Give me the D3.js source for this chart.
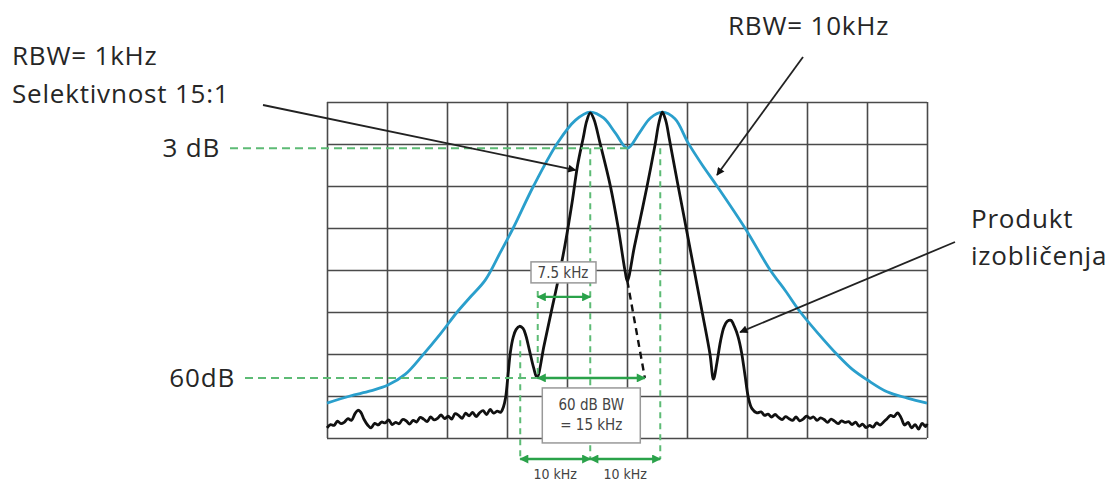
<!DOCTYPE html>
<html>
<head>
<meta charset="utf-8">
<script src="https://cdn.jsdelivr.net/npm/d3@7"></script>
<style>
  body { margin: 0; background: #fff; }
  .label { font-family: "Open Sans", sans-serif; font-size: 26px; letter-spacing: 0.8px; fill: #262626; }
  .note { font-family: "Liberation Sans Narrow", "DejaVu Sans Condensed", sans-serif; font-size: 15px; fill: #444; }
</style>
</head>
<body>
<svg id="chart" width="1108" height="485"></svg>
<script>
// DATA: traces as [frequency offset from first tone (kHz), level (dB, top of screen = 0)]
const rbw10Trace = [
  [-37.6, -71.7], [-34.3, -70.0], [-31.4, -68.8], [-28.9, -67.4], [-26.4, -64.8],
  [-23.9, -60.2], [-21.4, -55.2], [-19.0, -50.0], [-17.0, -46.2], [-15.0, -42.4],
  [-12.9, -36.0], [-11.0, -30.0], [-8.1, -20.0], [-4.7, -9.8], [-2.1, -4.3],
  [0, -2.4], [1.9, -3.8], [3.6, -7.4], [5.3, -11.0], [7.0, -7.4], [8.6, -3.8],
  [10.3, -2.4], [12.1, -4.0], [14.0, -9.8], [16.0, -15.0], [18.1, -20.0],
  [22.1, -30.0], [25.7, -40.0], [27.9, -45.0], [30.0, -50.0], [32.6, -55.2],
  [35.3, -60.2], [37.4, -63.6], [39.6, -66.2], [42.4, -69.0], [45.3, -70.5], [48.1, -71.7]
];

const noiseLeft = [
  [-37.6, -77.6], [-37.1, -76.8], [-36.6, -77.0], [-36.1, -76.0], [-35.6, -76.6],
  [-35.1, -76.2], [-34.6, -75.4], [-34.1, -75.8], [-33.6, -74.2], [-33.2, -73.4],
  [-32.8, -73.8], [-32.3, -75.6], [-31.8, -76.9], [-31.3, -77.6], [-30.8, -76.5],
  [-30.3, -76.9], [-29.8, -76.2], [-29.3, -76.4], [-28.8, -75.7], [-28.3, -76.8],
  [-27.8, -76.3], [-27.3, -76.6], [-26.8, -75.6], [-26.3, -75.9], [-25.8, -76.7],
  [-25.3, -75.8], [-24.8, -76.2], [-24.3, -75.1], [-23.8, -75.5], [-23.3, -76.1],
  [-22.8, -75.0], [-22.3, -75.7], [-21.8, -75.3], [-21.3, -74.5], [-20.8, -75.4],
  [-20.3, -74.8], [-19.8, -75.5], [-19.3, -74.2], [-18.8, -74.6], [-18.3, -75.3],
  [-17.8, -74.1], [-17.3, -74.7], [-16.8, -73.9], [-16.3, -74.9], [-15.8, -74.0],
  [-15.3, -73.5], [-14.8, -74.4], [-14.3, -73.2], [-13.8, -74.1], [-13.3, -73.6],
  [-12.8, -73.9], [-12.4, -72.6], [-12.1, -70.5]
];

const signalRbw1 = [
  [-11.8, -66.0], [-11.4, -59.5], [-11.0, -56.0], [-10.6, -54.2], [-10.1, -53.4],
  [-9.6, -53.9], [-9.2, -55.6], [-8.7, -59.0], [-8.1, -63.2], [-7.6, -65.6],
  [-6.6, -58.0], [-5.6, -50.2], [-4.6, -42.5], [-3.6, -34.0], [-2.6, -24.0],
  [-1.8, -15.0], [-1.0, -8.5], [-0.5, -4.5], [0, -2.6], [0.5, -4.0], [1.4, -9.8],
  [2.9, -20.2], [4.0, -30.0], [5.0, -40.5], [5.3, -42.6], [6.3, -34.5], [7.2, -27.4],
  [8.1, -20.2], [9.3, -9.8], [9.8, -5.0], [10.3, -2.4], [10.8, -4.5], [11.3, -8.8],
  [12.5, -19.5], [13.7, -30.0], [14.9, -40.5], [16.1, -51.0], [17.1, -60.0],
  [17.6, -66.0], [18.1, -62.0], [18.6, -57.0], [19.1, -53.6], [19.6, -52.2],
  [20.1, -52.0], [20.6, -53.5], [21.1, -55.8], [21.6, -59.5], [22.1, -65.0],
  [22.6, -70.5], [23.1, -73.0], [23.8, -74.0]
];

const noiseRight = [
  [24.4, -73.8], [24.9, -74.6], [25.4, -74.3], [25.9, -75.0], [26.4, -74.4],
  [26.9, -75.1], [27.4, -75.6], [27.9, -74.9], [28.4, -75.4], [28.9, -75.8],
  [29.4, -75.0], [29.9, -75.9], [30.4, -75.5], [30.9, -74.8], [31.4, -75.3],
  [31.9, -75.0], [32.4, -75.8], [32.9, -75.2], [33.4, -75.6], [33.9, -76.3],
  [34.4, -75.5], [34.9, -76.0], [35.4, -76.6], [35.9, -75.9], [36.4, -76.3],
  [36.9, -76.1], [37.4, -76.8], [37.9, -76.2], [38.4, -77.2], [38.9, -76.7],
  [39.4, -77.5], [39.9, -77.0], [40.4, -77.4], [40.9, -76.4], [41.4, -76.9],
  [41.9, -76.2], [42.4, -75.4], [42.9, -74.6], [43.4, -74.9], [43.9, -74.0],
  [44.4, -75.2], [44.9, -76.9], [45.4, -76.3], [45.9, -77.6], [46.4, -76.8],
  [46.9, -77.9], [47.4, -76.5], [47.9, -77.3], [48.1, -76.6]
];

// filter skirt continued below the dip (dashed)
const skirtTrace = [[5.3, -42.6], [7.8, -65.7]];

// reference levels
const refLabels = ["3 dB", "60dB"];
const refLevels = [-11.0, -65.7];
const refEnds = [5.3, -7.5];

// vertical marker lines (kHz) and their extent (dB)
const markFreqs = [0, 10, -10, -7.5];
const markTops = [-11.0, -11.0, -56.7, -45.0];
const markBottoms = [-85, -85, -85, -65.7];

// bandwidth arrows
const bwLabels = ["7.5 kHz", "60 dB BW|= 15 kHz", "10 kHz", "10 kHz"];
const bwFrom = [-7.5, -7.5, -10, 0];
const bwTo = [0, 7.8, 0, 10];
const bwLevels = [-46.4, -65.7, -85, -85];

// SETUP
const xDomain = [-37.6, 48.1],
    yDomain = [-80, 0];

const svg = d3.select("#chart");

const x = d3.scaleLinear().domain(xDomain).range([327, 927]);
const y = d3.scaleLinear().domain(yDomain).range([438, 102]);

const green = "#2aa24a", greenDash = "#5dbb75";

// markers
const defs = svg.append("defs");
defs.append("marker")
    .attr("id", "arrBlack")
    .attr("viewBox", "0 0 10 10")
    .attr("refX", 9).attr("refY", 5)
    .attr("markerWidth", 10).attr("markerHeight", 8)
    .attr("markerUnits", "userSpaceOnUse")
    .attr("orient", "auto")
    .append("path").attr("d", "M0,0L10,5L0,10Z").attr("fill", "#111");
defs.append("marker")
    .attr("id", "arrGreen")
    .attr("viewBox", "0 0 10 10")
    .attr("refX", 9).attr("refY", 5)
    .attr("markerWidth", 10).attr("markerHeight", 9)
    .attr("markerUnits", "userSpaceOnUse")
    .attr("orient", "auto-start-reverse")
    .append("path").attr("d", "M0,0L10,5L0,10Z").attr("fill", green);

// 1: GRID (axes with full-length ticks)
const gridX = d3.range(11).map(i => xDomain[0] + i * (xDomain[1] - xDomain[0]) / 10);
const gridY = d3.range(-80, 1, 10);

svg.append("g")
    .attr("transform", `translate(0,${y(yDomain[0])})`)
    .call(d3.axisBottom(x).tickValues(gridX).tickFormat("")
        .tickSizeInner(-(y(yDomain[0]) - y(yDomain[1]))).tickSizeOuter(0))
    .call(g => g.select(".domain").remove())
    .selectAll("line").attr("stroke", "#4a4a4a").attr("stroke-width", 1.6);

svg.append("g")
    .attr("transform", `translate(${x(xDomain[0])},0)`)
    .call(d3.axisLeft(y).tickValues(gridY).tickFormat("")
        .tickSizeInner(-(x(xDomain[1]) - x(xDomain[0]))).tickSizeOuter(0))
    .call(g => g.select(".domain").remove())
    .selectAll("line").attr("stroke", "#4a4a4a").attr("stroke-width", 1.6);

// 2: TRACES
const line = d3.line().x(d => x(d[0])).y(d => y(d[1]));

svg.append("path")
    .datum(rbw10Trace)
    .attr("d", line.curve(d3.curveCatmullRom.alpha(0.5)))
    .attr("fill", "none")
    .attr("stroke", "#2a9fcc")
    .attr("stroke-width", 2.8);

svg.append("path")
    .datum(noiseLeft.concat(signalRbw1, noiseRight))
    .attr("d", line.curve(d3.curveCatmullRom.alpha(0.5)))
    .attr("fill", "none")
    .attr("stroke", "#111")
    .attr("stroke-width", 2.8)
    .attr("stroke-linejoin", "round");

svg.append("path")
    .datum(skirtTrace)
    .attr("d", line.curve(d3.curveLinear))
    .attr("fill", "none")
    .attr("stroke", "#111")
    .attr("stroke-width", 2.4)
    .attr("stroke-dasharray", "7,5");

// 3: REFERENCE LEVELS (dashed green)
const refStartX = [230, 245];
refLevels.forEach((lv, i) => {
    svg.append("line")
        .attr("x1", refStartX[i]).attr("x2", x(refEnds[i]))
        .attr("y1", y(lv)).attr("y2", y(lv))
        .attr("stroke", greenDash).attr("stroke-width", 2)
        .attr("stroke-dasharray", "8,5");
    svg.append("text")
        .attr("class", "label")
        .attr("x", refStartX[i] - 10)
        .attr("y", y(lv) + 9)
        .attr("text-anchor", "end")
        .text(refLabels[i]);
});

markFreqs.forEach((f, i) => {
    svg.append("line")
        .attr("x1", x(f)).attr("x2", x(f))
        .attr("y1", y(markTops[i])).attr("y2", y(markBottoms[i]))
        .attr("stroke", greenDash).attr("stroke-width", 2)
        .attr("stroke-dasharray", "6,5");
});

// 4: BANDWIDTH ARROWS AND BOXES
bwLabels.forEach((lab, i) => {
    svg.append("line")
        .attr("x1", x(bwFrom[i])).attr("x2", x(bwTo[i]))
        .attr("y1", y(bwLevels[i])).attr("y2", y(bwLevels[i]))
        .attr("stroke", green).attr("stroke-width", 2.4)
        .attr("marker-start", "url(#arrGreen)")
        .attr("marker-end", "url(#arrGreen)");
});

// 7.5 kHz box (above its arrow)
const cx0 = x((bwFrom[0] + bwTo[0]) / 2) - 1;
svg.append("rect")
    .attr("x", cx0 - 32).attr("y", y(bwLevels[0]) - 35)
    .attr("width", 65).attr("height", 21)
    .attr("fill", "#fff").attr("stroke", "#999").attr("stroke-width", 1.5);
svg.append("text").attr("class", "note")
    .attr("x", cx0).attr("y", y(bwLevels[0]) - 19)
    .attr("text-anchor", "middle").text(bwLabels[0]);

// 60 dB BW box (below its arrow)
const cx1 = x((bwFrom[1] + bwTo[1]) / 2);
svg.append("rect")
    .attr("x", cx1 - 49).attr("y", y(bwLevels[1]) + 10)
    .attr("width", 98).attr("height", 55)
    .attr("fill", "#fff").attr("stroke", "#999").attr("stroke-width", 1.5);
bwLabels[1].split("|").forEach((t, j) => {
    svg.append("text").attr("class", "note")
        .attr("x", cx1).attr("y", y(bwLevels[1]) + 32 + j * 20)
        .attr("text-anchor", "middle").text(t);
});

// 10 kHz spacing labels
[2, 3].forEach(i => {
    svg.append("text").attr("class", "note")
        .style("font-size", "14px")
        .attr("x", x((bwFrom[i] + bwTo[i]) / 2))
        .attr("y", y(bwLevels[i]) + 20)
        .attr("text-anchor", "middle").text(bwLabels[i]);
});

// 5: CALLOUT TEXT AND LEADERS
svg.append("text").attr("class", "label").attr("x", 12).attr("y", 65).text("RBW= 1kHz");
svg.append("text").attr("class", "label").attr("x", 12).attr("y", 103).text("Selektivnost 15:1");
svg.append("text").attr("class", "label").attr("x", 728).attr("y", 35).text("RBW= 10kHz");
svg.append("text").attr("class", "label").attr("x", 971).attr("y", 228).text("Produkt");
svg.append("text").attr("class", "label").attr("x", 971).attr("y", 265).text("izobličenja");

const leaderStart = [[263, 105], [803, 57], [955, 242]];
const leaderTip = [[-2.1, -16.2], [18.1, -17.4], [21.4, -54.8]];
leaderStart.forEach((s, i) => {
    svg.append("line")
        .attr("x1", s[0]).attr("y1", s[1])
        .attr("x2", x(leaderTip[i][0])).attr("y2", y(leaderTip[i][1]))
        .attr("stroke", "#222").attr("stroke-width", 1.8)
        .attr("marker-end", "url(#arrBlack)");
});
</script>
</body>
</html>
